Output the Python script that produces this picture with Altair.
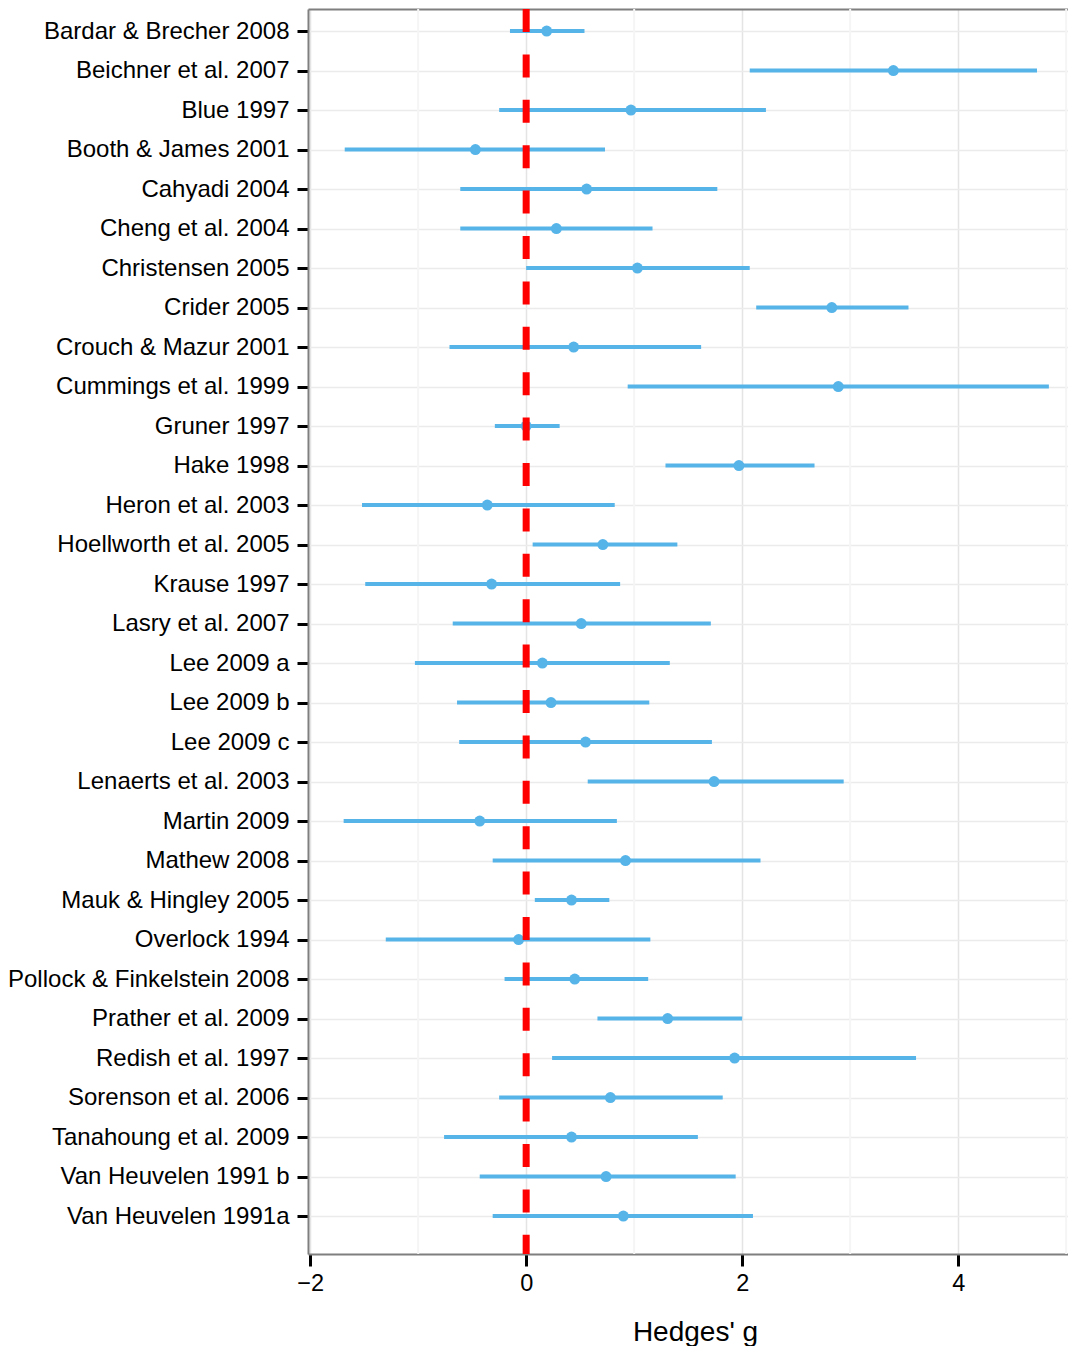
import altair as alt
import pandas as pd

studies = [
    "Bardar & Brecher 2008", "Beichner et al. 2007", "Blue 1997", "Booth & James 2001",
    "Cahyadi 2004", "Cheng et al. 2004", "Christensen 2005", "Crider 2005",
    "Crouch & Mazur 2001", "Cummings et al. 1999", "Gruner 1997", "Hake 1998",
    "Heron et al. 2003", "Hoellworth et al. 2005", "Krause 1997", "Lasry et al. 2007",
    "Lee 2009 a", "Lee 2009 b", "Lee 2009 c", "Lenaerts et al. 2003",
    "Martin 2009", "Mathew 2008", "Mauk & Hingley 2005", "Overlock 1994",
    "Pollock & Finkelstein 2008", "Prather et al. 2009", "Redish et al. 1997",
    "Sorenson et al. 2006", "Tanahoung et al. 2009", "Van Heuvelen 1991 b", "Van Heuvelen 1991a",
]
est = [0.19, 3.40, 0.97, -0.47, 0.56, 0.28, 1.03, 2.83, 0.44, 2.89, 0.00, 1.97,
       -0.36, 0.71, -0.32, 0.51, 0.15, 0.23, 0.55, 1.74, -0.43, 0.92, 0.42, -0.07,
       0.45, 1.31, 1.93, 0.78, 0.42, 0.74, 0.90]
lo = [-0.15, 2.07, -0.25, -1.68, -0.61, -0.61, 0.00, 2.13, -0.71, 0.94, -0.29, 1.29,
      -1.52, 0.06, -1.49, -0.68, -1.03, -0.64, -0.62, 0.57, -1.69, -0.31, 0.08, -1.30,
      -0.20, 0.66, 0.24, -0.25, -0.76, -0.43, -0.31]
hi = [0.54, 4.73, 2.22, 0.73, 1.77, 1.17, 2.07, 3.54, 1.62, 4.84, 0.31, 2.67,
      0.82, 1.40, 0.87, 1.71, 1.33, 1.14, 1.72, 2.94, 0.84, 2.17, 0.77, 1.15,
      1.13, 2.00, 3.61, 1.82, 1.59, 1.94, 2.10]
minor_breaks = [-1, 1, 3, 5]
major_breaks = [-2, 0, 2, 4]
ref_value = [0]

df = pd.DataFrame({"study": studies, "lo": lo, "est": est, "hi": hi,
                   "idx": list(range(len(studies)))})

FONT = "Liberation Sans"
xscale = alt.Scale(domain=[-2.02, 5.017], nice=False, zero=False)
yscale = alt.Scale(domain=[-0.557, 30.96], nice=False, zero=False, reverse=True)

label_list = "[" + ",".join("'" + s + "'" for s in studies) + "]"

xaxis = alt.Axis(values=major_breaks, title="Hedges' g", grid=True, gridColor="#e4e4e4",
                 gridWidth=1.5, tickSize=12, labelPadding=5, titlePadding=24,
                 titleFontSize=28, titleFontWeight="normal", titleFont=FONT,
                 titleColor="black", format="d", titleX=387)
yaxis = alt.Axis(values=list(range(len(studies))), labelExpr=label_list + "[datum.value]",
                 title=None, grid=True, gridColor="#ebebeb", gridWidth=1.5,
                 tickSize=11, labelPadding=8, labelLimit=0, labelFontSize=24)

minor = alt.Chart(pd.DataFrame({"v": minor_breaks})).mark_rule(
    color="#f5f5f5", strokeWidth=2).encode(x=alt.X("v:Q", scale=xscale, axis=xaxis))

bars = alt.Chart(df).mark_rule(color="#56B4E9", strokeWidth=4).encode(
    x=alt.X("lo:Q", scale=xscale, axis=xaxis),
    x2="hi:Q",
    y=alt.Y("idx:Q", scale=yscale, axis=yaxis),
)
points = alt.Chart(df).mark_circle(color="#56B4E9", size=120, opacity=1).encode(
    x=alt.X("est:Q", scale=xscale, axis=xaxis),
    y=alt.Y("idx:Q", scale=yscale, axis=yaxis),
)
inner = alt.layer(minor, bars, points)

ref = alt.Chart(pd.DataFrame({"z": ref_value})).mark_rule(
    color="#ff0000", strokeWidth=7, strokeDash=[23, 22.4]).encode(
    x=alt.X("z:Q", scale=xscale,
            axis=alt.Axis(orient="top", labels=False, ticks=False, grid=False,
                          title=None, domainColor="#7f7f7f", domainWidth=2))
)

chart = alt.layer(inner, ref).resolve_axis(x="independent").properties(
    width=760, height=1245,
    autosize=alt.AutoSizeParams(type="none"),
    padding={"left": 300, "top": 1, "right": 0, "bottom": 92},
).configure_view(stroke=None).configure_axis(
    domainColor="#7f7f7f", domainWidth=2, tickColor="black", tickWidth=3,
    labelColor="black", labelFont=FONT, labelFontSize=23.5,
)

chart.save("out.html", embed_options={"renderer": "svg", "actions": False})
